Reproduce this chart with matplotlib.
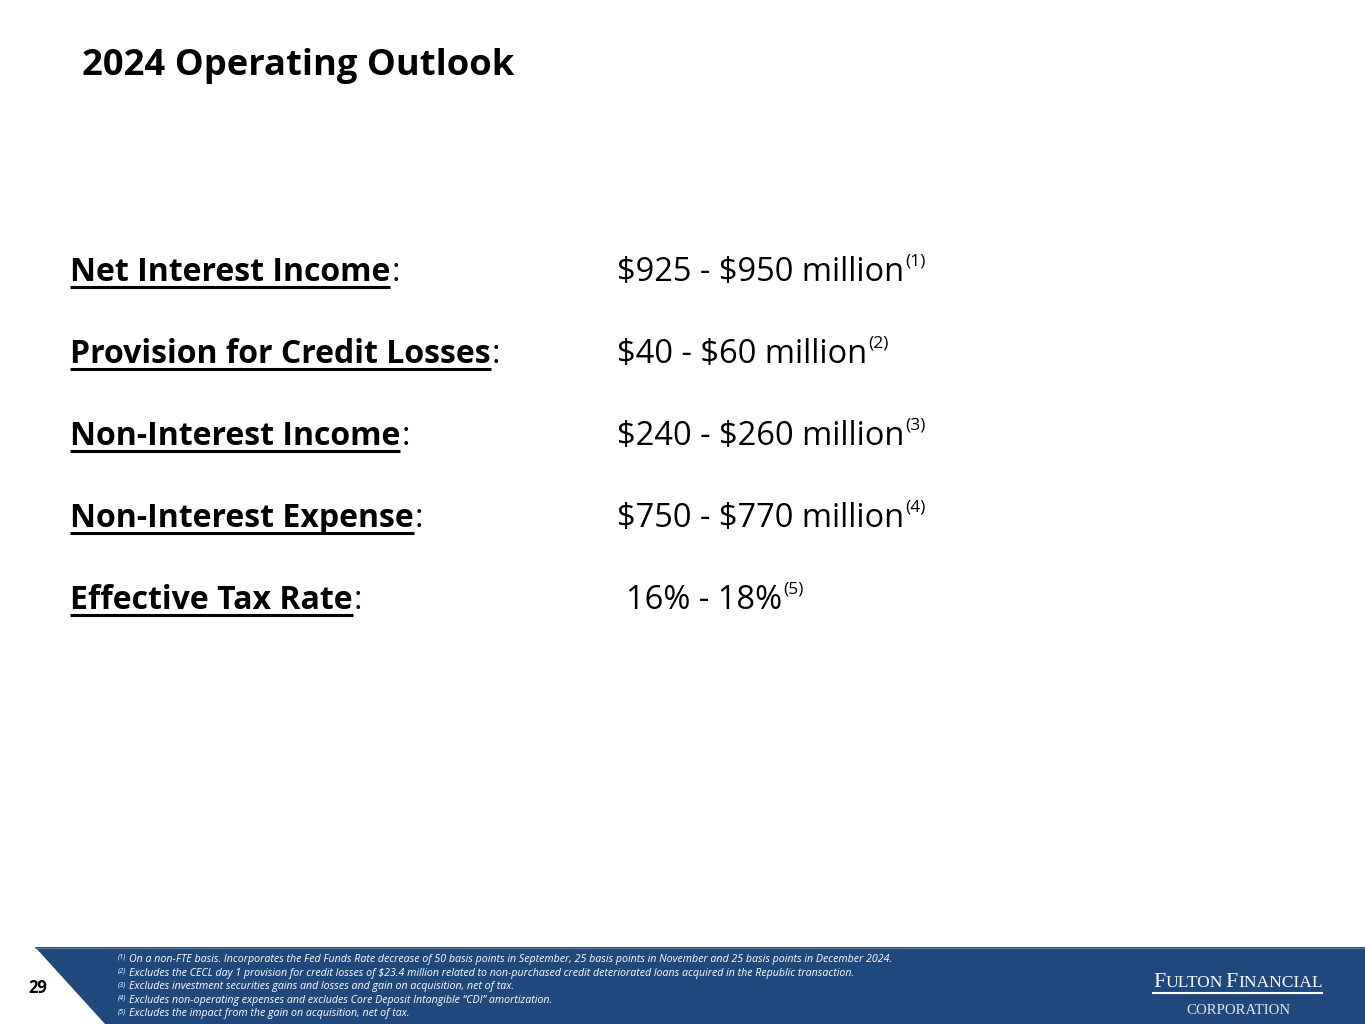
import matplotlib
matplotlib.use("Agg")
import matplotlib.pyplot as plt
from matplotlib.patches import Polygon

plt.rcParams["text.parse_math"] = False

W, H, DPI = 1365, 1024, 100

title = "2024 Operating Outlook"
labels = ["Net Interest Income", "Provision for Credit Losses", "Non-Interest Income",
          "Non-Interest Expense", "Effective Tax Rate"]
values = ["$925 - $950 million", "$40 - $60 million", "$240 - $260 million",
          "$750 - $770 million", "16% - 18%"]
value_marks = ["(1)", "(2)", "(3)", "(4)", "(5)"]
note_marks = ["(1)", "(2)", "(3)", "(4)", "(5)"]
notes = [
    "On a non-FTE basis. Incorporates the Fed Funds Rate decrease of 50 basis points in September, 25 basis points in November and 25 basis points in December 2024.",
    "Excludes the CECL day 1 provision for credit losses of $23.4 million related to non-purchased credit deteriorated loans acquired in the Republic transaction.",
    "Excludes investment securities gains and losses and gain on acquisition, net of tax.",
    "Excludes non-operating expenses and excludes Core Deposit Intangible \u201cCDI\u201d amortization.",
    "Excludes the impact from the gain on acquisition, net of tax.",
]
page_number = "29"
logo_top = [("F", 1.25), ("ULTON", 1.0), (" ", 1.0), ("F", 1.25), ("INANCIAL", 1.0)]
logo_bottom = "CORPORATION"

SANS = "Open Sans"
SERIF = "Liberation Serif"
BAND = "#1F497D"

fig = plt.figure(figsize=(W / DPI, H / DPI), dpi=DPI)
ax = fig.add_axes([0, 0, 1, 1])
ax.set_xlim(0, W)
ax.set_ylim(H, 0)
ax.axis("off")
renderer = fig.canvas.get_renderer()


def put(x, y, s, **kw):
    """draw text at baseline y, return it and its pixel width"""
    kw.setdefault("family", SANS)
    kw.setdefault("color", "black")
    t = ax.text(x, y, s, va="baseline", ha="left", **kw)
    return t, t.get_window_extent(renderer).width


def measure(s, **kw):
    t, w = put(0, 0, s, **kw)
    t.remove()
    return w


# title
put(82, 75, title, fontsize=26.2, weight="bold")

# outlook rows
row_y0, row_step = 281, 82
value_x = [617, 617, 617, 617, 626]
for i, (lab, val, mark) in enumerate(zip(labels, values, value_marks)):
    y = row_y0 + i * row_step
    _, w = put(70, y, lab, fontsize=23, weight="bold")
    ax.plot([70, 70 + w], [y + 6, y + 6], color="black", lw=2.2, solid_capstyle="butt")
    put(70 + w + 1, y, ":", fontsize=23)
    _, vw = put(value_x[i], y, val, fontsize=23.5)
    put(value_x[i] + vw + 1, y - 15, mark, fontsize=12.5)

# footer band
ax.add_patch(Polygon([[35, 947], [W, 947], [W, H], [105, H]], closed=True,
                     facecolor=BAND, edgecolor="none"))
ax.plot([35, W], [947.5, 947.5], color="#5A7AA5", lw=0.8)
put(28, 993, page_number, fontsize=12, weight="bold")

note_y0, note_step = 962, 13.6
for i, (mark, note) in enumerate(zip(note_marks, notes)):
    y = note_y0 + i * note_step
    _, mw = put(118, y - 3, mark, fontsize=5.4, style="italic", color="white")
    put(118 + mw + 2.5, y, note, fontsize=7.7, style="italic", color="white")

# logo, scaled to fit its box
logo_w, base = 169.0, 20.0
gap = 0.25
natural = sum(measure(p, fontsize=base * f, family=SERIF)
              for p, f in logo_top if p != " ") + gap * base
k = logo_w / natural
x = 1153
for piece, f in logo_top:
    if piece == " ":
        x += gap * base * k
        continue
    _, w = put(x, 987, piece, fontsize=base * f * k, family=SERIF, color="white")
    x += w
ax.plot([1153, 1322], [993, 993], color="white", lw=1.5)
cw = measure(logo_bottom, fontsize=base, family=SERIF)
ax.text(1238, 1014, logo_bottom, fontsize=base * 104.0 / cw, family=SERIF,
        color="#DDE6F0", ha="center", va="baseline")

fig.savefig("out.png", dpi=DPI)
